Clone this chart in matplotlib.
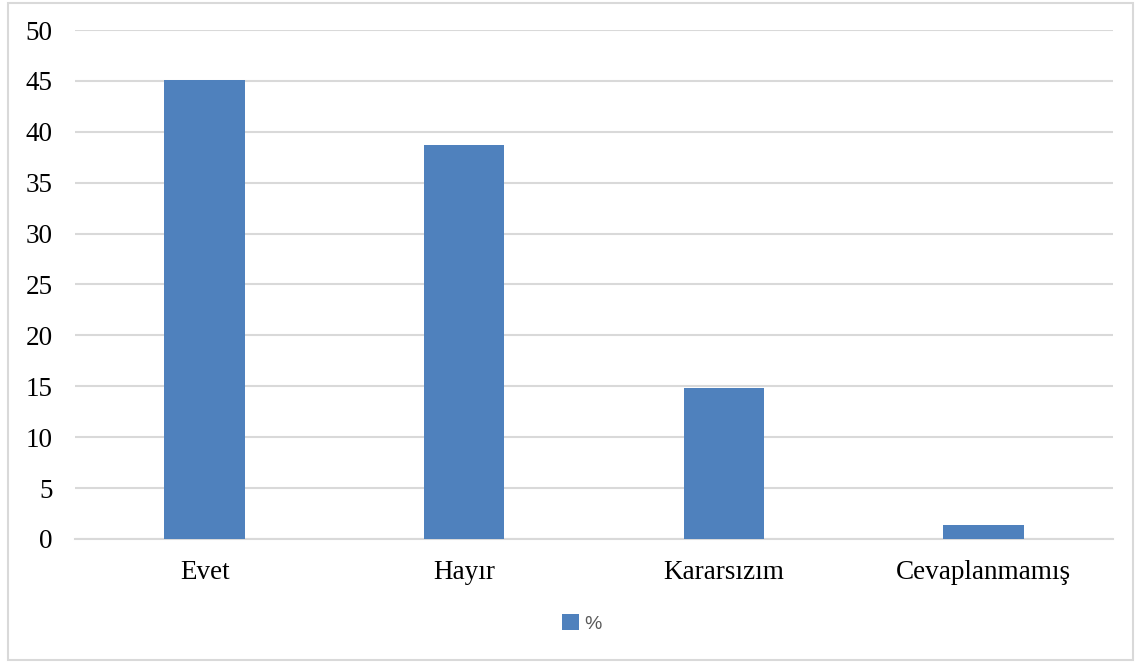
import matplotlib.pyplot as plt
from matplotlib.patches import Rectangle

categories = ["Evet", "Hayır", "Kararsızım", "Cevaplanmamış"]
values = [45.1, 38.7, 14.8, 1.4]
yticks = [0, 5, 10, 15, 20, 25, 30, 35, 40, 45, 50]
series_name = "%"

fig = plt.figure(figsize=(11.41, 6.64), dpi=100)
ax = fig.add_axes([0.0657, 0.1883, 0.9098, 0.7665])

ax.bar(range(len(categories)), values, width=0.31, color="#4f81bd", zorder=3, label=series_name)
ax.set_xlim(-0.5, len(categories) - 0.5)
ax.set_ylim(0, 50)
ax.set_yticks(yticks)
ax.set_xticks(range(len(categories)))
ax.set_xticklabels(categories)
ax.grid(axis="y", color="#d9d9d9", linewidth=1.5, zorder=0)
for s in ["left", "right", "top"]:
    ax.spines[s].set_visible(False)
ax.spines["bottom"].set_color("#d9d9d9")
ax.spines["bottom"].set_linewidth(1.5)
ax.tick_params(length=0, labelsize=19.5, labelfontfamily="Liberation Serif")
ax.tick_params(axis="y", pad=16)
ax.tick_params(axis="x", pad=15.5)

leg = fig.legend(loc="center", bbox_to_anchor=(0.51, 0.061), frameon=False,
                 prop={"family": "Liberation Sans", "size": 14},
                 handlelength=0.85, handleheight=0.85, handletextpad=0.3)
for t in leg.get_texts():
    t.set_color("#595959")

fig.patches.append(Rectangle((0.007, 0.006), 0.986, 0.99, transform=fig.transFigure,
                             fill=False, edgecolor="#d9d9d9", linewidth=1.5))

fig.savefig("out.png", dpi=100)
